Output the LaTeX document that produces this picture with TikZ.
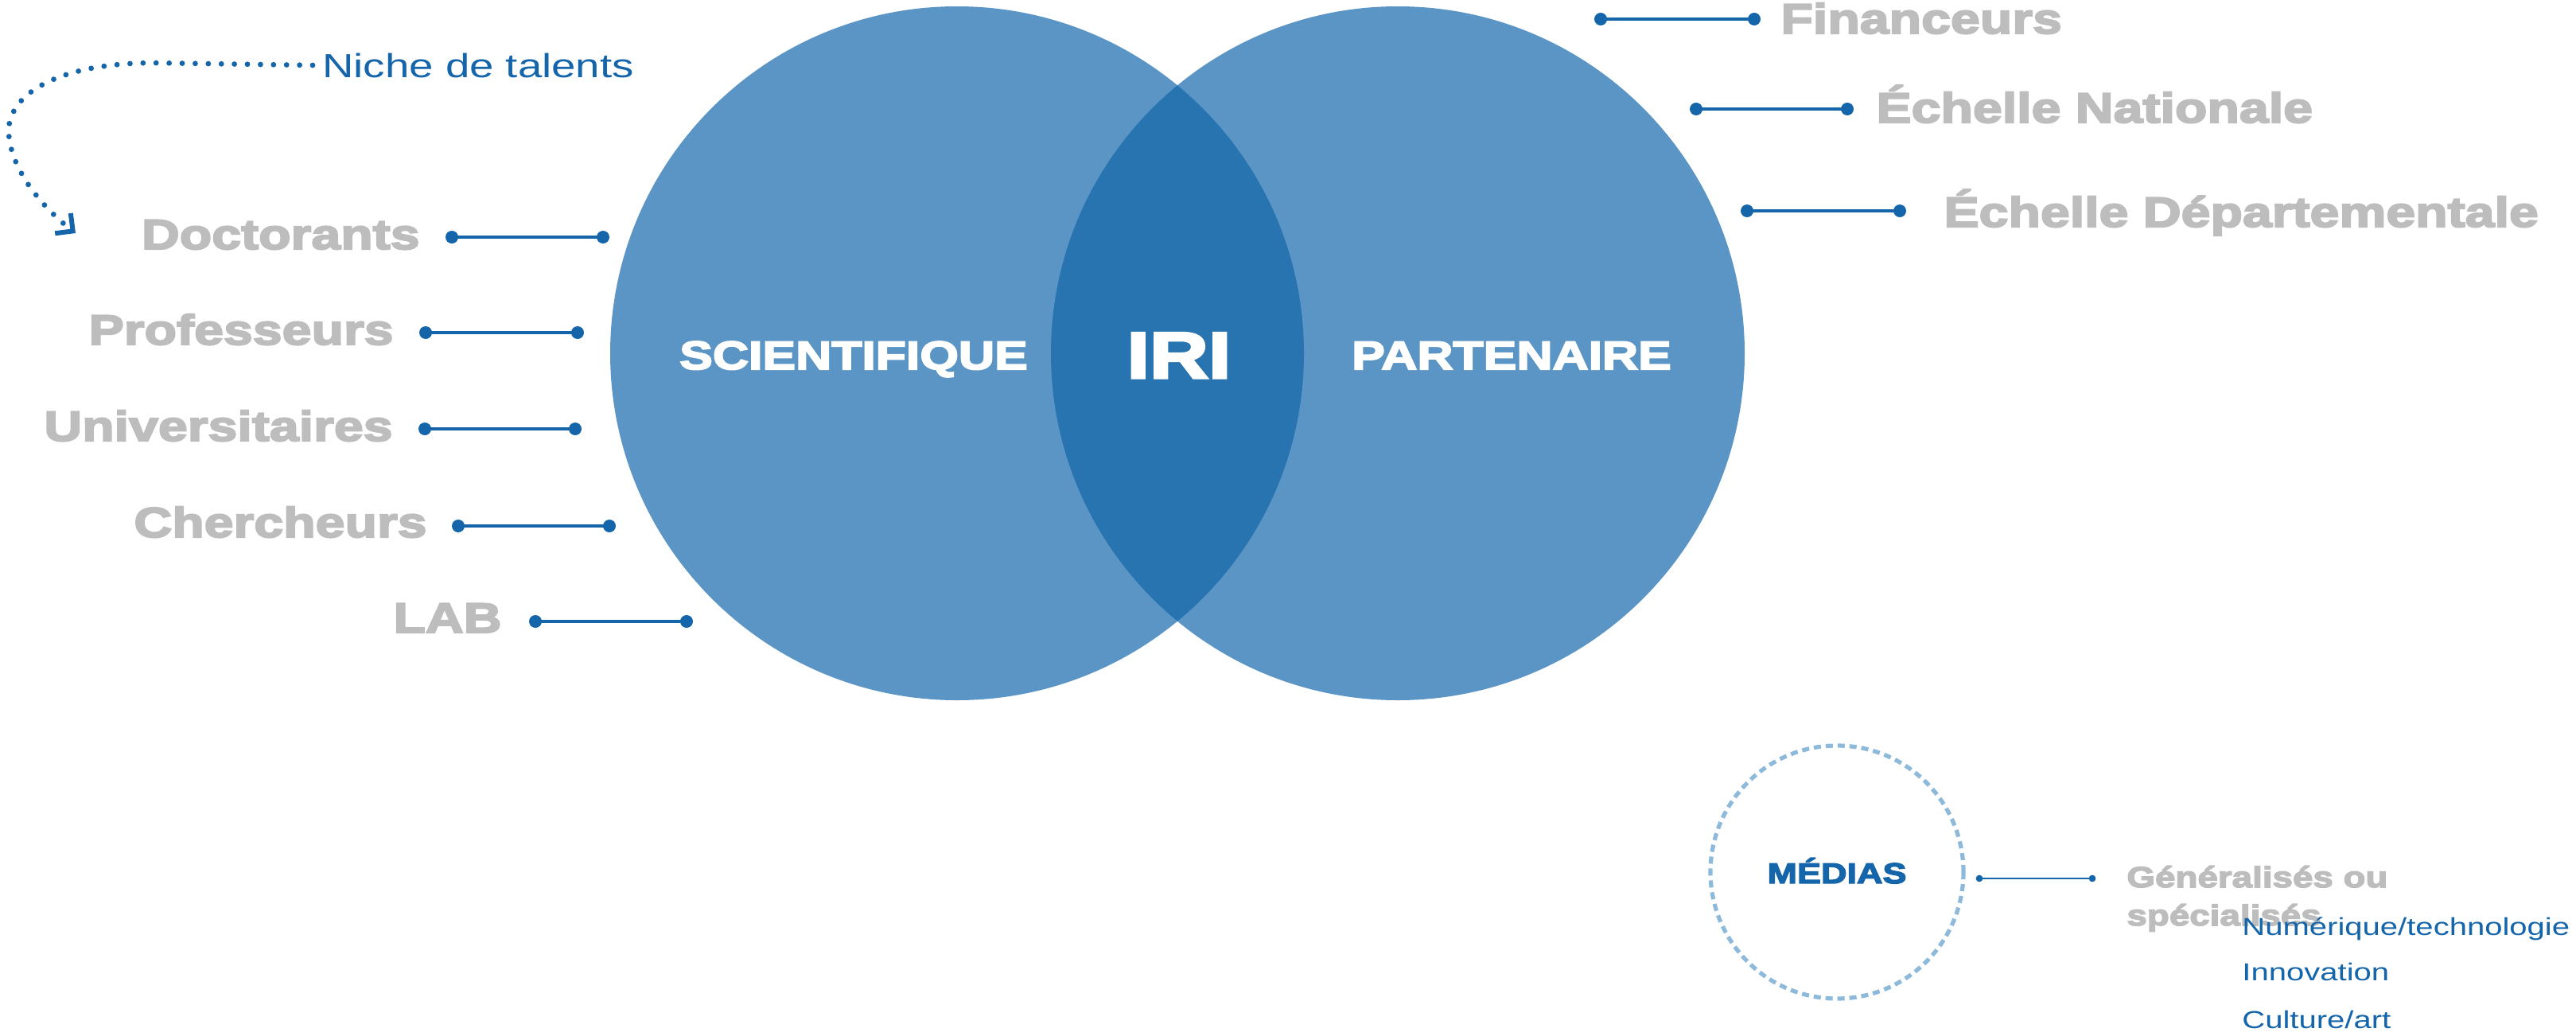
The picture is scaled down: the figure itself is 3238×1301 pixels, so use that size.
\documentclass[tikz,border=0pt]{standalone}
\usepackage{fontspec}
\setmainfont{Liberation Sans}
\newfontfamily\heavyfont[FakeStretch=1.25,BoldFeatures={FakeBold=4}]{Liberation Sans}
\newfontfamily\widefont[FakeStretch=1.3]{Liberation Sans}
\usetikzlibrary{arrows.meta}
\definecolor{lightblue}{HTML}{5A95C5}
\definecolor{lensblue}{HTML}{2774B0}
\definecolor{lineblue}{HTML}{1565AB}
\definecolor{txtgray}{HTML}{BDBDBD}
\definecolor{dashblue}{HTML}{8DB9DB}
\begin{document}
\begin{tikzpicture}[x=0.5pt,y=-0.5pt,
  graylbl/.style={inner sep=0pt, text=txtgray, font=\heavyfont\bfseries\fontsize{26.5}{30}\selectfont},
  circlbl/.style={inner sep=0pt, text=white, font=\heavyfont\bfseries\fontsize{25}{30}\selectfont},
  bluelbl/.style={inner sep=0pt, text=lineblue, font=\widefont\fontsize{15.4}{18}\selectfont},
  conn/.style={draw=lineblue, line width=2pt},
  enddot/.style={fill=lineblue},
  bigcircle/.style={circle, inner sep=0pt, minimum size=436pt, fill=lightblue},
]
\useasboundingbox (0,0) rectangle (3238,1301);

% Venn circles
\node[bigcircle] (sci) at (1203,444) {};
\node[bigcircle] (part) at (1757,444) {};
\begin{scope}
  \clip (1203,444) circle[radius=218pt];
  \fill[lensblue] (1757,444) circle[radius=218pt];
\end{scope}

\node[circlbl, anchor=base] (scitxt) at (1073,464) {SCIENTIFIQUE};
\node[circlbl, anchor=base] (parttxt) at (1900,464) {PARTENAIRE};
\node[circlbl, anchor=base, font=\heavyfont\bfseries\fontsize{41}{45}\selectfont] (iri) at (1482,475) {IRI};

% Niche de talents
\node[inner sep=0pt, anchor=base west, text=lineblue, font=\widefont\fontsize{21}{24}\selectfont] (niche) at (405,97) {Niche de talents};
\coordinate (nichetip) at (95,293);
\draw[lineblue, line width=3.4pt, line cap=round, dash pattern=on 0pt off 8.2pt,
      -{Straight Barb[length=8pt,width=16pt,line width=3pt]}]
  ([xshift=-6pt]niche.west) -- (190,79) .. controls (70,80) and (8,120) .. (11,168)
  .. controls (14,215) and (55,262) .. (nichetip);

% Left labels
\node[graylbl, anchor=base east] (doc) at (528,313) {Doctorants};
\node[graylbl, anchor=base east] (prof) at (495,433) {Professeurs};
\node[graylbl, anchor=base east] (univ) at (494,554) {Universitaires};
\node[graylbl, anchor=base east] (cher) at (537,675) {Chercheurs};
\node[graylbl, anchor=base east] (lab) at (631,795) {LAB};

\coordinate (docA) at (568,298); \coordinate (docB) at (758,298);
\coordinate (profA) at (535,418); \coordinate (profB) at (726,418);
\coordinate (univA) at (534,539); \coordinate (univB) at (723,539);
\coordinate (cherA) at (576,661); \coordinate (cherB) at (766,661);
\coordinate (labA) at (673,781); \coordinate (labB) at (863,781);

% Right labels
\node[graylbl, anchor=base west] (fin) at (2238,42) {Financeurs};
\node[graylbl, anchor=base west] (nat) at (2358,154) {Échelle Nationale};
\node[graylbl, anchor=base west] (dep) at (2443,285) {Échelle Départementale};

\coordinate (finA) at (2012,24); \coordinate (finB) at (2205,24);
\coordinate (natA) at (2132,137); \coordinate (natB) at (2322,137);
\coordinate (depA) at (2196,265); \coordinate (depB) at (2388,265);

\foreach \p in {doc,prof,univ,cher,lab,fin,nat,dep}{
  \draw[conn] (\p A) -- (\p B);
  \fill[enddot] (\p A) circle[radius=4pt] (\p B) circle[radius=4pt];
}

% Medias
\node[circle, inner sep=0pt, minimum size=159pt, draw=dashblue, line width=2.6pt,
      dash pattern=on 4.5pt off 3pt] (medias) at (2309,1096) {};
\node[inner sep=0pt, anchor=base, text=lineblue, font=\heavyfont\bfseries\fontsize{18}{22}\selectfont] (mediastxt) at (2309,1110) {MÉDIAS};
\coordinate (medA) at (2488,1104); \coordinate (medB) at (2630,1104);
\draw[lineblue, line width=1.3pt] (medA) -- (medB);
\fill[lineblue] (medA) circle[radius=2.2pt] (medB) circle[radius=2.2pt];

\node[inner sep=0pt, anchor=base west, align=left, text=txtgray, font=\heavyfont\bfseries\fontsize{18.3}{24}\selectfont] (gen) at (2673,1163) {Généralisés ou\\spécialisés};

\node[bluelbl, anchor=base west] (num) at (2818,1175) {Numérique/technologie};
\node[bluelbl, anchor=base west] (inno) at (2818,1232) {Innovation};
\node[bluelbl, anchor=base west] (cult) at (2818,1292) {Culture/art};
\end{tikzpicture}
\end{document}
